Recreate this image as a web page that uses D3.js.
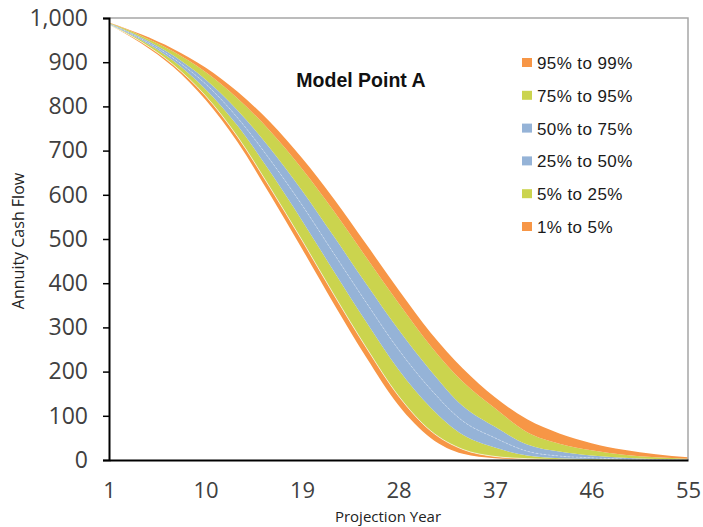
<!DOCTYPE html>
<html>
<head>
<meta charset="utf-8">
<script src="https://cdn.jsdelivr.net/npm/d3@7"></script>
<style>
  body { margin: 0; background: #fff; }
  svg { display: block; }
</style>
</head>
<body>
<script>
// projection years sampled every 3 years
var years = [1, 4, 7, 10, 13, 16, 19, 22, 25, 28, 31, 34, 37, 40, 43, 46, 49, 52, 55];

// percentile curves of annuity cash flow
var p1  = [985, 943, 889, 815, 719, 601, 478, 352, 232, 124, 50, 14, 4, 1, 0, 0, 0, 0, 0];
var p5  = [985, 946, 894, 824, 731, 617, 497, 373, 254, 145, 66, 24, 8, 3, 1, 0, 0, 0, 0];
var p25 = [986, 950, 903, 839, 756, 653, 542, 426, 312, 205, 119, 57, 28, 10, 4, 2, 1, 0, 0];
var p50 = [987, 953, 909, 851, 774, 680, 577, 466, 356, 250, 160, 88, 50, 20, 9, 5, 2, 1, 0];
var p75 = [988, 956, 915, 861, 791, 706, 610, 505, 398, 295, 202, 122, 75, 35, 19, 10, 5, 2, 1];
var p95 = [989, 960, 924, 878, 818, 745, 659, 562, 458, 355, 258, 177, 117, 63, 37, 22, 12, 6, 3];
var p99 = [990, 963, 930, 888, 833, 765, 683, 590, 488, 385, 288, 207, 142, 92, 60, 38, 23, 13, 6];

var bandLabels = ["1% to 5%", "5% to 25%", "25% to 50%", "50% to 75%", "75% to 95%", "95% to 99%"];
var bandColors = ["#F79646", "#CBD44E", "#95B3D7", "#95B3D7", "#CBD44E", "#F79646"];
var curves = [p1, p5, p25, p50, p75, p95, p99];

var xTicks = [1, 10, 19, 28, 37, 46, 55];
var yTicks = [0, 100, 200, 300, 400, 500, 600, 700, 800, 900, 1000];

var width = 703, height = 527;
var margin = {left: 109, right: 15, top: 18, bottom: 67};

var svg = d3.select("body").append("svg")
    .attr("width", width)
    .attr("height", height);

var x = d3.scaleLinear().domain([1, 55]).range([margin.left, width - margin.right]);
var y = d3.scaleLinear().domain([0, 1000]).range([height - margin.bottom, margin.top]);

// bands between consecutive percentiles
var bands = d3.range(6).map(function(i) {
    return years.map(function(t, j) {
        return {t: t, lo: curves[i][j], hi: curves[i + 1][j]};
    });
});

var area = d3.area()
    .curve(d3.curveMonotoneX)
    .x(function(d) { return x(d.t); })
    .y0(function(d) { return y(d.lo); })
    .y1(function(d) { return y(d.hi); });

svg.append("g").selectAll("path")
    .data(bands)
    .enter().append("path")
    .attr("d", area)
    .attr("fill", function(d, i) { return bandColors[i]; });

var line = d3.line()
    .curve(d3.curveMonotoneX)
    .x(function(d, j) { return x(years[j]); })
    .y(function(d) { return y(d); });

// thin white separators
svg.append("path").datum(p5).attr("d", line)
    .attr("fill", "none").attr("stroke", "#fff").attr("stroke-width", 0.8).attr("opacity", 0.8);
svg.append("path").datum(p50).attr("d", line)
    .attr("fill", "none").attr("stroke", "#fff").attr("stroke-width", 0.7)
    .attr("stroke-dasharray", "2,2").attr("opacity", 0.5);

// plot frame (top and right)
svg.append("path")
    .attr("d", "M" + x(1) + "," + y(1000) + "H" + x(55) + "V" + y(0))
    .attr("fill", "none").attr("stroke", "#a6a6a6").attr("stroke-width", 1.5);

// y axis
var yAxis = svg.append("g")
    .attr("transform", "translate(" + margin.left + ",0)")
    .call(d3.axisLeft(y).tickValues(yTicks).tickFormat(d3.format(",")).tickSize(6).tickPadding(15));
yAxis.select(".domain").attr("stroke", "#000").attr("stroke-width", 2);
yAxis.selectAll(".tick line").attr("stroke", "#000").attr("stroke-width", 1.5);
yAxis.selectAll("text")
    .attr("font-family", "'Open Sans', sans-serif")
    .attr("font-size", 23)
    .attr("fill", "#404040");

// x axis
var xAxis = svg.append("g")
    .attr("transform", "translate(0," + y(0) + ")")
    .call(d3.axisBottom(x).tickValues(xTicks).tickSize(0).tickPadding(22));
xAxis.select(".domain").attr("stroke", "#000").attr("stroke-width", 2);
xAxis.selectAll("text")
    .attr("font-family", "'Open Sans', sans-serif")
    .attr("font-size", 22)
    .attr("fill", "#404040");

// axis titles
svg.append("text")
    .attr("x", 388)
    .attr("y", 522)
    .attr("text-anchor", "middle")
    .attr("font-family", "'Open Sans', sans-serif")
    .attr("font-size", 15)
    .attr("fill", "#222")
    .text("Projection Year");

svg.append("text")
    .attr("transform", "translate(24,241) rotate(-90)")
    .attr("text-anchor", "middle")
    .attr("font-family", "'Open Sans', sans-serif")
    .attr("font-size", 16)
    .attr("fill", "#222")
    .text("Annuity Cash Flow");

// chart title
svg.append("text")
    .attr("x", 361)
    .attr("y", 87)
    .attr("text-anchor", "middle")
    .attr("font-family", "'Liberation Sans', Arial, sans-serif")
    .attr("font-weight", "bold")
    .attr("font-size", 19.5)
    .attr("fill", "#111")
    .text("Model Point A");

// legend, top entry is the highest band
var legend = svg.append("g").selectAll("g")
    .data(d3.range(6).reverse())
    .enter().append("g")
    .attr("transform", function(d, i) { return "translate(522," + (63 + i * 32.8) + ")"; });

legend.append("rect")
    .attr("x", 0).attr("y", -5)
    .attr("width", 10).attr("height", 9)
    .attr("fill", function(d) { return bandColors[d]; });

legend.append("text")
    .attr("x", 15).attr("y", 6)
    .attr("font-family", "'Liberation Sans', Arial, sans-serif")
    .attr("font-size", 17)
    .attr("letter-spacing", 0.4)
    .attr("fill", "#1a1a1a")
    .text(function(d) { return bandLabels[d]; });
</script>
</body>
</html>
